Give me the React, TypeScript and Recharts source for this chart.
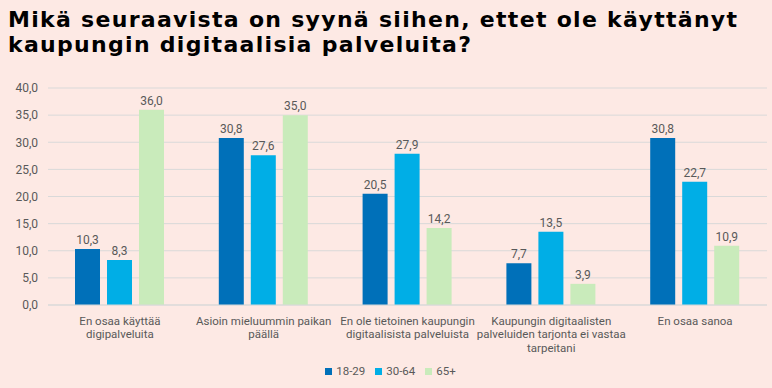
import { BarChart, Bar, CartesianGrid, XAxis, YAxis, Legend, LabelList } from "recharts";

const categories = [
  "En osaa käyttää\ndigipalveluita",
  "Asioin mieluummin paikan\npäällä",
  "En ole tietoinen kaupungin\ndigitaalisista palveluista",
  "Kaupungin digitaalisten\npalveluiden tarjonta ei vastaa\ntarpeitani",
  "En osaa sanoa",
];
const age18to29 = [10.3, 30.8, 20.5, 7.7, 30.8];
const age30to64 = [8.3, 27.6, 27.9, 13.5, 22.7];
const age65plus = [36.0, 35.0, 14.2, 3.9, 10.9];
const yTicks = [0, 5, 10, 15, 20, 25, 30, 35, 40];

const data = categories.map((name, i) => ({
  name,
  a: age18to29[i],
  b: age30to64[i],
  c: age65plus[i],
}));

const BG = "#fde9e4";
const GREY = "#595959";
const FONT = "Roboto, sans-serif";
const fmt = (v: number) => v.toFixed(1).replace(".", ",");

const CategoryTick = ({ x, y, payload }: any) => {
  const lines = String(payload.value).split("\n");
  return (
    <text x={x} y={y} textAnchor="middle" fill={GREY} fontSize={11.5} fontFamily={FONT}>
      {lines.map((line, i) => (
        <tspan key={i} x={x} dy={i === 0 ? 11.5 : 13.5}>
          {line}
        </tspan>
      ))}
    </text>
  );
};

export default function App() {
  return (
    <div style={{ position: "absolute", left: 0, top: 0, width: 772, height: 388, background: BG, overflow: "hidden" }}>
      <div
        style={{
          position: "absolute",
          left: 8,
          top: 7,
          fontFamily: "'DejaVu Sans', sans-serif",
          fontWeight: 700,
          fontSize: 22,
          lineHeight: "25px",
          letterSpacing: 1.3,
          color: "#000",
          whiteSpace: "nowrap",
        }}
      >
        Mikä seuraavista on syynä siihen, ettet ole käyttänyt
        <br />
        kaupungin digitaalisia palveluita?
      </div>
      <div style={{ position: "absolute", left: 0, top: 0 }}>
        <BarChart
          width={772}
          height={388}
          data={data}
          margin={{ top: 88, right: 5, left: 0, bottom: 19 }}
          barCategoryGap={27}
          barGap={7}
        >
          <CartesianGrid vertical={false} stroke="#d9d9d9" />
          <XAxis
            dataKey="name"
            tick={<CategoryTick />}
            tickLine={false}
            axisLine={{ stroke: "#d9d9d9" }}
            interval={0}
            height={50}
          />
          <YAxis
            domain={[0, 40]}
            ticks={yTicks}
            tickFormatter={fmt}
            axisLine={false}
            tickLine={false}
            tickMargin={4}
            width={48}
            tick={{ fill: GREY, fontSize: 12, fontFamily: FONT }}
          />
          <Legend
            verticalAlign="bottom"
            iconType="square"
            iconSize={7}
            wrapperStyle={{ fontSize: 11.5, fontFamily: FONT, bottom: 10, left: 12 }}
            formatter={(v: string) => <span style={{ color: GREY }}>{v}</span>}
          />
          <Bar dataKey="a" name="18-29" fill="#0070b9" isAnimationActive={false}>
            <LabelList dataKey="a" position="top" formatter={fmt} fill={GREY} fontSize={12} fontFamily={FONT} />
          </Bar>
          <Bar dataKey="b" name="30-64" fill="#00aee6" isAnimationActive={false}>
            <LabelList dataKey="b" position="top" formatter={fmt} fill={GREY} fontSize={12} fontFamily={FONT} />
          </Bar>
          <Bar dataKey="c" name="65+" fill="#c9ebbb" isAnimationActive={false}>
            <LabelList dataKey="c" position="top" formatter={fmt} fill={GREY} fontSize={12} fontFamily={FONT} />
          </Bar>
        </BarChart>
      </div>
    </div>
  );
}
